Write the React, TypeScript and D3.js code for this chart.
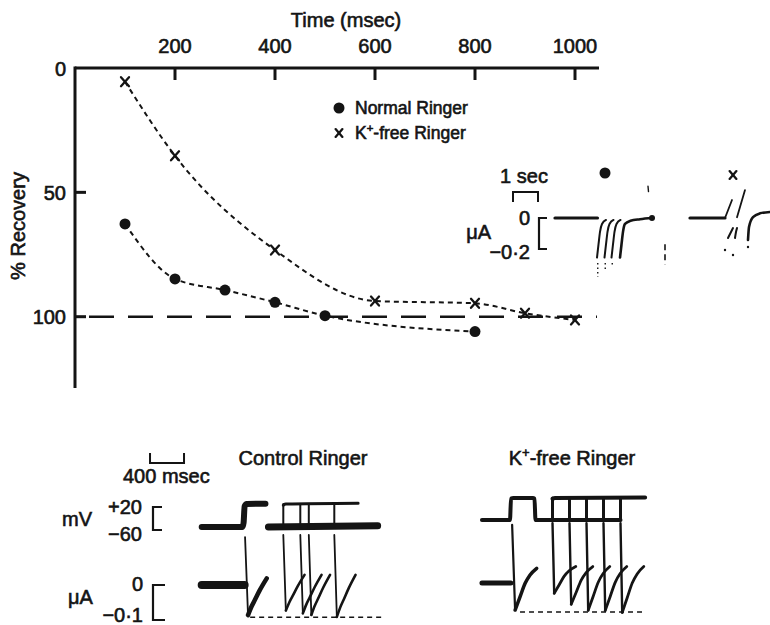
import React from "react";
import * as d3 from "d3";

const INK = "#141414";
const FONT = "'Liberation Sans', Arial, Helvetica, sans-serif";

// Recovery of the current after a conditioning pulse, against pulse interval (ms, %)
const normalInterval = [100, 200, 300, 400, 500, 800];
const normalRecovery = [62.7, 84.8, 89.3, 94.2, 99.6, 106];
const kFreeInterval = [100, 200, 400, 600, 800, 900, 1000];
const kFreeRecovery = [5.5, 35.3, 73.2, 93.7, 94.6, 98.6, 101.3];
const timeTicks = [200, 400, 600, 800, 1000];
const recoveryTicks = [0, 50, 100];

// Voltage-clamp records (time ms, potential mV, current μA)
const holdingMv = -60;
const pulseMv = 20;
const ctrlPulse = [505, 780];
const ctrlIntervals = [200, 400, 500, 800];
const kPulse = [500, 800];
const kIntervals = [200, 400, 600, 800, 1000];
const ctrlFullPeak = -0.086;
const kFullPeak = -0.083;
const ctrlEndLevel = 0.019;
const kEndLevel = 0.042;
// return of the current from its peak: [dt ms, fraction recovered]
const ctrlRecoveryShape = [[0, 0], [40, 0.227], [80, 0.409], [140, 0.685], [220, 1]];
const kRecoveryShape = [[0, 0], [59, 0.32], [118, 0.64], [176, 0.84], [254, 1]];

// Inset records at slow sweep speed
const insetNormalOnsets = [1680, 1980, 2260, 2600];
const insetPeak = -0.255;
const insetRiseShape = [[0, 0], [60, 0.33], [120, 0.65], [200, 0.85], [360, 0.95]];
const insetTailShape = [[0, 0], [60, 0.33], [120, 0.65], [200, 0.85], [420, 0.93], [800, 0.97], [1280, 1]];

// ---------- main plot scales ----------
const x = d3.scaleLinear().domain([0, 1000]).range([75, 575]);
const y = d3.scaleLinear().domain([0, 100]).range([68, 316.7]);

// ---------- record scales ----------
const xc = d3.scaleLinear().domain([0, 400]).range([200, 234]);
const vc = d3.scaleLinear().domain([-60, 20]).range([527, 504]);
const ic = d3.scaleLinear().domain([-0.1, 0]).range([620, 585]);

const xk = d3.scaleLinear().domain([0, 400]).range([467.5, 501.5]);
const vk = d3.scaleLinear().domain([-60, 20]).range([520, 498]);
const ik = d3.scaleLinear().domain([-0.1, 0]).range([618, 583]);

const xi = d3.scaleLinear().domain([0, 1000]).range([555, 580]);
const xik = d3.scaleLinear().domain([0, 1000]).range([690, 715]);
const yi = d3.scaleLinear().domain([-0.2, 0]).range([249, 218]);

type Pt = number[];
const pathOf = (pts: Pt[], sx: any, sy: any, curve: any = d3.curveLinear) =>
  d3
    .line<Pt>()
    .x((d) => sx(d[0]))
    .y((d) => sy(d[1]))
    .curve(curve)(pts) || "";

const recoveryPts = (start: number, peak: number, end: number, shape: number[][]) =>
  shape.map(([dt, f]) => [start + dt, peak + (end - peak) * f]);

const Txt = ({ x, y, anchor = "start", size = 20, children, transform }: any) => (
  <text
    x={x}
    y={y}
    textAnchor={anchor}
    fontSize={size}
    fontFamily={FONT}
    fill={INK}
    stroke={INK}
    strokeWidth={0.6}
    transform={transform}
  >
    {children}
  </text>
);

const KFree = ({ x, y, anchor = "start", size = 20 }: any) => (
  <text x={x} y={y} textAnchor={anchor} fontSize={size} fontFamily={FONT} fill={INK} stroke={INK} strokeWidth={0.6}>
    <tspan>K</tspan>
    <tspan dy={-size * 0.4} fontSize={size * 0.65}>+</tspan>
    <tspan dy={size * 0.4}>-free Ringer</tspan>
  </text>
);

const Cross = ({ cx, cy, s = 4 }: any) => (
  <g stroke={INK} strokeWidth={2.3} strokeLinecap="round">
    <line x1={cx - s} y1={cy - s - 0.5} x2={cx + s} y2={cy + s + 0.5} />
    <line x1={cx + s} y1={cy - s - 0.5} x2={cx - s} y2={cy + s + 0.5} />
  </g>
);

const P = ({ d, w = 2, dash, cap = "round" }: any) => (
  <path d={d} fill="none" stroke={INK} strokeWidth={w} strokeDasharray={dash} strokeLinecap={cap} strokeLinejoin="round" />
);

function RecoveryPlot() {
  const curve = d3.curveMonotoneX;
  const normalPts = normalInterval.map((t, i) => [t, normalRecovery[i]]);
  const kPts = kFreeInterval.map((t, i) => [t, kFreeRecovery[i]]);
  return (
    <g>
      {/* axes */}
      <line x1={x(0)} y1={y(0)} x2={x(1048)} y2={y(0)} stroke={INK} strokeWidth={3} />
      <line x1={x(0)} y1={y(0) - 1.5} x2={x(0)} y2={y(128.7)} stroke={INK} strokeWidth={3} />
      {timeTicks.map((t) => (
        <g key={t}>
          <line x1={x(t)} y1={y(0)} x2={x(t)} y2={y(0) + 12} stroke={INK} strokeWidth={3} />
          <Txt x={x(t)} y={53} anchor="middle">{t}</Txt>
        </g>
      ))}
      <Txt x={346} y={27} anchor="middle">Time (msec)</Txt>
      {recoveryTicks.map((r) => (
        <g key={r}>
          {r > 0 && <line x1={x(0)} y1={y(r)} x2={x(0) + 11} y2={y(r)} stroke={INK} strokeWidth={3} />}
          <Txt x={66} y={y(r) + 7.5} anchor="end">{r}</Txt>
        </g>
      ))}
      <Txt x={0} y={0} anchor="middle" transform={`translate(25,226) rotate(-90)`}>% Recovery</Txt>

      {/* full-recovery reference */}
      <line x1={x(28)} y1={y(100)} x2={x(1044)} y2={y(100)} stroke={INK} strokeWidth={2.6} strokeDasharray="25,14" />

      {/* fitted curves */}
      <P d={pathOf(normalPts, x, y, curve)} w={2} dash="5,4" cap="butt" />
      <P d={pathOf(kPts, x, y, curve)} w={2} dash="5,4" cap="butt" />
      {normalPts.map(([t, r]) => (
        <circle key={t} cx={x(t)} cy={y(r)} r={5.5} fill={INK} />
      ))}
      {kPts.map(([t, r]) => (
        <Cross key={t} cx={x(t)} cy={y(r)} />
      ))}

      {/* legend */}
      <circle cx={339} cy={108} r={5.5} fill={INK} />
      <Txt x={355} y={114} size={17.5}>Normal Ringer</Txt>
      <Cross cx={339} cy={133} s={3.4} />
      <KFree x={355} y={139} size={17.5} />
    </g>
  );
}

function Inset() {
  const last = insetNormalOnsets.length - 1;
  return (
    <g>
      {/* scale */}
      <Txt x={524} y={183} anchor="middle">1 sec</Txt>
      <path d={`M${xi(-1680)},202 V192 H${xi(-680)} V202`} fill="none" stroke={INK} strokeWidth={2} />
      <Txt x={491} y={239} anchor="end">μA</Txt>
      <Txt x={530} y={225} anchor="end">0</Txt>
      <Txt x={530} y={259} anchor="end">−0·2</Txt>
      <path d={`M547,${yi(0)} H539 V${yi(-0.2)} H547`} fill="none" stroke={INK} strokeWidth={2.2} />

      {/* normal Ringer records */}
      <P d={pathOf([[0, 0], [1700, 0]], xi, yi)} w={3.2} />
      {insetNormalOnsets.map((t0, k) => (
        <P
          key={t0}
          d={pathOf(recoveryPts(t0, insetPeak, 0, k === last ? insetTailShape : insetRiseShape), xi, yi, d3.curveMonotoneX)}
          w={k === last ? 2.6 : 2}
        />
      ))}
      <circle cx={xi(insetNormalOnsets[last] + 1280)} cy={yi(0)} r={3} fill={INK} />
      {insetNormalOnsets.slice(0, 3).map((t0, k) => (
        <P key={t0} d={pathOf([[t0 + 30, -0.29], [t0 + 30, -0.38 + k * 0.04]], xi, yi)} w={1.4} dash="1.5,3" cap="butt" />
      ))}
      <P d={pathOf([[3720, 0.205], [3740, 0.17]], xi, yi)} w={1.4} />
      <P d={pathOf([[4400, -0.17], [4400, -0.3]], xi, yi)} w={1.6} dash="6,4" cap="butt" />
      <circle cx={xi(2000)} cy={173} r={5.5} fill={INK} />

      {/* K+-free Ringer records */}
      <P d={pathOf([[0, 0], [1400, 0]], xik, yi)} w={3.2} />
      <P d={pathOf([[1400, 0], [1680, 0.116]], xik, yi)} w={1.8} />
      <P d={pathOf([[1880, 0.005], [2200, 0.18]], xik, yi)} w={1.8} />
      <P d={pathOf([[1520, -0.129], [1640, -0.09], [1720, -0.065]], xik, yi, d3.curveMonotoneX)} w={2} />
      <P d={pathOf([[1800, -0.129], [1840, -0.09], [1880, -0.065]], xik, yi, d3.curveMonotoneX)} w={2} />
      <P
        d={pathOf([[2320, -0.142], [2360, -0.058], [2520, 0.006], [2800, 0.03], [3200, 0.039]], xik, yi, d3.curveMonotoneX)}
        w={2.6}
      />
      {[[1400, -0.206], [1720, -0.239], [2320, -0.187]].map(([t, i]) => (
        <circle key={t} cx={xik(t)} cy={yi(i)} r={1.2} fill={INK} />
      ))}
      <Cross cx={xik(1720)} cy={175} s={3.4} />
    </g>
  );
}

function ControlPanel() {
  const onsets = ctrlIntervals.map((iv) => ctrlPulse[1] + iv);
  const peaks = ctrlIntervals.map((iv) => (ctrlFullPeak * normalRecovery[normalInterval.indexOf(iv)]) / 100);
  const [p0, p1] = ctrlPulse;
  return (
    <g>
      <Txt x={303} y={465} anchor="middle">Control Ringer</Txt>
      {/* potential */}
      <P
        d={pathOf([[20, holdingMv], [p0 - 5, holdingMv], [p0 + 8, -45], [p0 + 20, 12], [p0 + 45, pulseMv], [p1 - 10, pulseMv + 1]], xc, vc, d3.curveMonotoneX)}
        w={6}
      />
      <P d={pathOf([[p1 + 25, holdingMv], [2090, holdingMv + 4]], xc, vc)} w={7} />
      {onsets.map((o) => (
        <P key={o} d={pathOf([[o, holdingMv], [o, pulseMv]], xc, vc)} w={2} />
      ))}
      <P d={pathOf([[onsets[0], pulseMv - 4], [onsets[0] + 30, pulseMv], [1860, pulseMv + 3]], xc, vc, d3.curveMonotoneX)} w={3} />

      {/* current */}
      <P d={pathOf([[20, 0], [525, 0]], xc, ic)} w={8} />
      <P d={pathOf([[530, 0.137], [565, ctrlFullPeak]], xc, ic)} w={1.8} />
      <P d={pathOf(recoveryPts(565, ctrlFullPeak, ctrlEndLevel, ctrlRecoveryShape), xc, ic, d3.curveMonotoneX)} w={4.5} />
      {onsets.map((o, k) => (
        <g key={o}>
          <P d={pathOf([[o, 0.143], [o + 30, peaks[k]]], xc, ic)} w={1.8} />
          <P d={pathOf(recoveryPts(o + 30, peaks[k], ctrlEndLevel + 0.01, ctrlRecoveryShape), xc, ic, d3.curveMonotoneX)} w={2.6} />
        </g>
      ))}
      <P d={pathOf([[590, -0.092], [2150, -0.092]], xc, ic)} w={1.5} dash="5,4" cap="butt" />
    </g>
  );
}

function KFreePanel() {
  const onsets = kIntervals.map((iv) => kPulse[1] + iv);
  const peaks = kIntervals.map((iv) => (kFullPeak * kFreeRecovery[kFreeInterval.indexOf(iv)]) / 100);
  const [p0, p1] = kPulse;
  const lastOnset = onsets[onsets.length - 1];
  return (
    <g>
      <KFree x={572} y={465} anchor="middle" />
      {/* potential */}
      <P
        d={pathOf(
          [[170, holdingMv], [p0, holdingMv], [p0 + 12, pulseMv - 2], [p0 + 40, pulseMv], [p1 - 30, pulseMv], [p1 - 12, pulseMv - 2], [p1, holdingMv], [lastOnset, holdingMv]],
          xk,
          vk,
          d3.curveMonotoneX
        )}
        w={4}
      />
      {onsets.map((o) => (
        <P key={o} d={pathOf([[o, holdingMv], [o, pulseMv]], xk, vk)} w={3} />
      ))}
      <P d={pathOf([[onsets[0], pulseMv - 3], [onsets[0] + 30, pulseMv], [2090, pulseMv + 2]], xk, vk, d3.curveMonotoneX)} w={4} />

      {/* current */}
      <P d={pathOf([[170, 0], [510, 0]], xk, ik)} w={5} />
      <P d={pathOf([[525, 0.166], [560, kFullPeak * 0.93]], xk, ik)} w={2.2} />
      <P d={pathOf(recoveryPts(560, kFullPeak * 0.93, kEndLevel, kRecoveryShape), xk, ik, d3.curveMonotoneX)} w={3.5} />
      {onsets.map((o, k) => (
        <g key={o}>
          <P d={pathOf([[o, 0.171], [o + 20, peaks[k]]], xk, ik)} w={2.4} />
          <P d={pathOf(recoveryPts(o + 20, peaks[k], kEndLevel + 0.005, kRecoveryShape), xk, ik, d3.curveMonotoneX)} w={2.8} />
        </g>
      ))}
      <P d={pathOf([[618, kFullPeak], [2088, kFullPeak]], xk, ik)} w={1.5} dash="5,4" cap="butt" />
    </g>
  );
}

function Scales() {
  return (
    <g>
      <path d={`M${xc(-588)},453 V463 H${xc(-188)} V453`} fill="none" stroke={INK} strokeWidth={2} />
      <Txt x={123} y={483}>400 msec</Txt>
      <Txt x={62} y={526}>mV</Txt>
      <Txt x={142} y={514} anchor="end">+20</Txt>
      <Txt x={142} y={541} anchor="end">−60</Txt>
      <path d={`M162,${vc(20) + 3} H153 V${vc(-60) + 3} H162`} fill="none" stroke={INK} strokeWidth={2.2} />
      <Txt x={68} y={604}>μA</Txt>
      <Txt x={143} y={591} anchor="end">0</Txt>
      <Txt x={143} y={622} anchor="end">−0·1</Txt>
      <path d={`M165,${ic(0)} H153 V${ic(-0.1)} H165`} fill="none" stroke={INK} strokeWidth={2.2} />
    </g>
  );
}

export default function App() {
  return (
    <svg
      width={770}
      height={625}
      viewBox="0 0 770 625"
      style={{ position: "absolute", left: 0, top: 0, background: "#fff" }}
    >
      <rect width={770} height={625} fill="#fff" />
      <RecoveryPlot />
      <Inset />
      <Scales />
      <ControlPanel />
      <KFreePanel />
    </svg>
  );
}
